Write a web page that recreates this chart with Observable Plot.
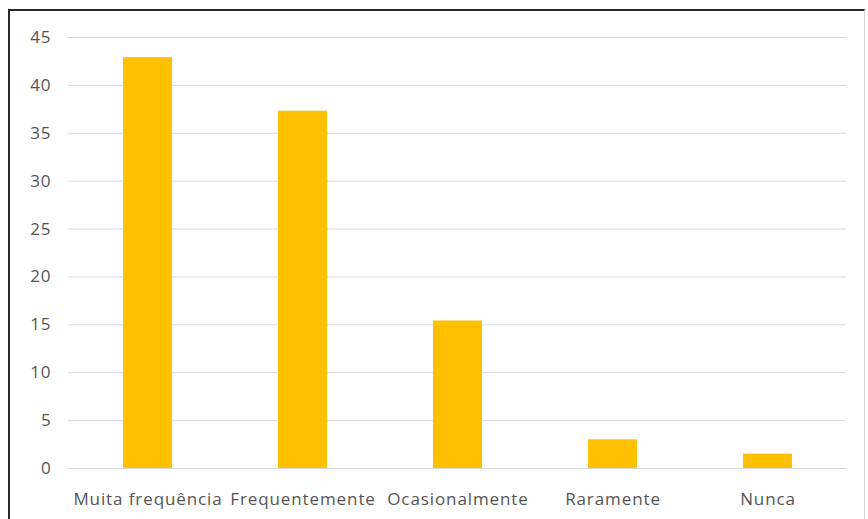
<!DOCTYPE html>
<html>
<head>
<meta charset="utf-8">
<script src="https://cdn.jsdelivr.net/npm/d3@7"></script>
<script src="https://cdn.jsdelivr.net/npm/@observablehq/plot@0.6"></script>
<style>
  html, body { margin: 0; padding: 0; background: #fff; }
  #wrap { position: relative; width: 868px; height: 519px; overflow: hidden; background: #fff; }
  #frame {
    position: absolute; left: 8px; top: 9px; width: 857px; height: 520px;
    border-top: 2px solid #2a2a2a; border-left: 2px solid #2a2a2a; border-right: 1px solid #d8d8d8;
    box-sizing: border-box; pointer-events: none;
  }
  #chart { position: absolute; left: 0; top: 0; }
  #chart svg text { letter-spacing: 0.9px; }
</style>
</head>
<body>
<div id="wrap"><div id="chart"></div><div id="frame"></div></div>
<script>
// Response categories and their shares (%)
const categories = ["Muita frequência", "Frequentemente", "Ocasionalmente", "Raramente", "Nunca"];
const values = [42.9, 37.3, 15.4, 3.0, 1.5];
const yTicks = [0, 5, 10, 15, 20, 25, 30, 35, 40, 45];

const data = categories.map((c, i) => ({category: c, value: values[i]}));

const chart = Plot.plot({
  width: 868,
  height: 519,
  marginLeft: 68,
  marginRight: 22,
  marginTop: 37,
  marginBottom: 51,
  style: {fontFamily: "'Open Sans', Lato, sans-serif", fontSize: "17px", color: "#555", background: "transparent"},
  x: {domain: categories, paddingInner: 0.685, paddingOuter: 0.3425, label: null},
  y: {domain: [0, 45], label: null},
  marks: [
    Plot.ruleY(yTicks, {stroke: "#d9d9d9", strokeWidth: 1}),
    Plot.barY(data, {x: "category", y: "value", fill: "#FFC000"}),
    Plot.axisY({ticks: yTicks, tickSize: 0, tickPadding: 17, label: null, fontSize: 17, fill: "#555"}),
    Plot.axisX({tickSize: 0, tickPadding: 24, label: null, fontSize: 17, fill: "#555"})
  ]
});
document.getElementById("chart").appendChild(chart);
</script>
</body>
</html>
